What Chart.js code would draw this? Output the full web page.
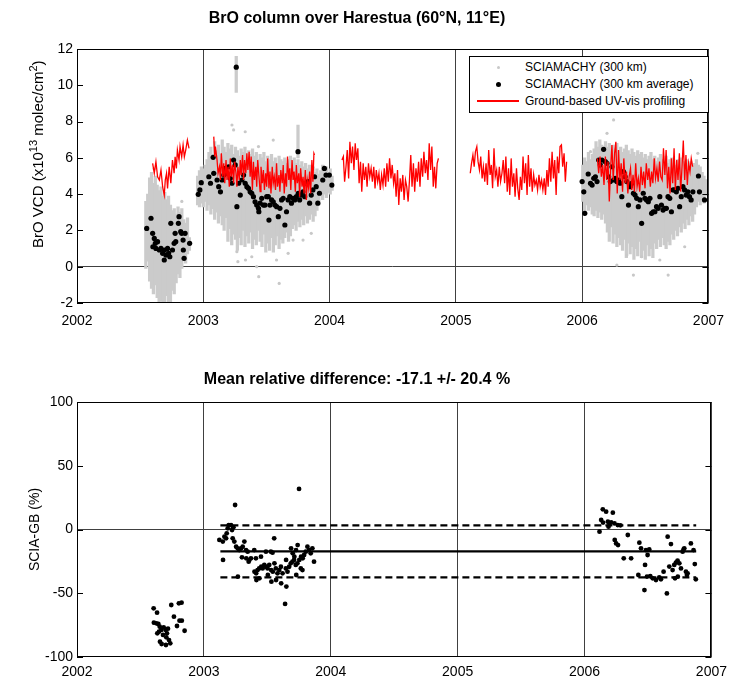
<!DOCTYPE html>
<html>
<head>
<meta charset="utf-8">
<title>BrO column over Harestua</title>
<script src="https://cdn.jsdelivr.net/npm/chart.js@4.4.1/dist/chart.umd.min.js"></script>
<style>
  body { margin: 0; background: #fff; }
  #wrap { position: relative; width: 734px; height: 680px; font-family: Arial, "Liberation Sans", sans-serif; }
  #wrap canvas { position: absolute; left: 0; }
  #top { top: 0; }
  #bottom { top: 340px; }
  #legend { position: absolute; left: 469px; top: 56px; width: 238px; height: 55px; border: 1px solid #000; background: #fff; font-size: 12px; color: #000; z-index: 2; }
  #legend .row { position: absolute; left: 55px; height: 17px; line-height: 17px; white-space: nowrap; }
  #legend .mk { position: absolute; display: block; }
</style>
</head>
<body>
<div id="wrap">
  <canvas id="top" width="734" height="340"></canvas>
  <canvas id="bottom" width="734" height="340"></canvas>
  <div id="legend">
    <div class="mk" style="left:26.5px;top:8.5px;width:3px;height:3px;border-radius:50%;background:#c8c8c8"></div>
    <div class="row" style="top:1.5px">SCIAMACHY (300 km)</div>
    <div class="mk" style="left:25.5px;top:24.5px;width:5px;height:5px;border-radius:50%;background:#000"></div>
    <div class="row" style="top:18.5px">SCIAMACHY (300 km average)</div>
    <div class="mk" style="left:7px;top:43px;width:42px;height:0;border-top:2px solid #ff0000"></div>
    <div class="row" style="top:35.5px">Ground-based UV-vis profiling</div>
  </div>
</div>
<script>
// ground-based UV-vis profiling (x1e13 molec/cm2), null breaks the line between seasons
const gbYears = [
  2002.599,2002.612,2002.625,2002.638,2002.652,2002.665,2002.678,2002.691,2002.699,2002.709,
  2002.717,2002.730,2002.743,2002.756,2002.769,2002.777,2002.787,2002.795,2002.808,2002.816,
  2002.829,2002.840,2002.850,2002.861,2002.874,2002.887,
  2002.95,
  2003.083,2003.091,2003.096,2003.109,2003.117,2003.128,2003.136,2003.143,2003.154,2003.162,
  2003.170,2003.180,2003.188,2003.196,2003.206,2003.214,2003.222,2003.232,2003.240,2003.248,
  2003.259,2003.266,2003.274,2003.285,2003.293,2003.300,2003.311,2003.319,2003.327,2003.337,
  2003.345,2003.353,2003.363,2003.371,2003.379,2003.389,2003.397,2003.405,2003.416,2003.423,
  2003.431,2003.442,2003.450,2003.457,2003.468,2003.476,2003.484,2003.494,2003.502,2003.510,
  2003.520,2003.528,2003.536,2003.546,2003.554,2003.562,2003.572,2003.580,2003.588,2003.599,
  2003.607,2003.614,2003.625,2003.633,2003.641,2003.651,2003.659,2003.667,2003.677,2003.685,
  2003.693,2003.703,2003.711,2003.719,2003.729,2003.737,2003.745,2003.756,2003.763,2003.771,
  2003.782,2003.790,2003.798,2003.808,2003.816,2003.824,2003.834,2003.842,2003.850,2003.860,
  2003.868,2003.876,2003.881,
  2003.99,
  2004.098,2004.109,2004.119,2004.130,2004.140,2004.151,2004.161,2004.172,2004.182,2004.193,
  2004.203,2004.213,2004.224,2004.234,2004.245,2004.255,2004.266,2004.276,2004.287,2004.297,
  2004.308,2004.318,2004.329,2004.339,2004.350,2004.360,2004.370,2004.381,2004.391,2004.402,
  2004.412,2004.423,2004.433,2004.444,2004.454,2004.465,2004.475,2004.486,2004.496,2004.507,
  2004.517,2004.527,2004.538,2004.548,2004.559,2004.569,2004.580,2004.590,2004.601,2004.611,
  2004.622,2004.632,2004.643,2004.653,2004.664,2004.674,2004.684,2004.695,2004.705,2004.716,
  2004.726,2004.737,2004.747,2004.758,2004.768,2004.779,2004.789,2004.800,2004.810,2004.821,
  2004.831,2004.841,2004.852,2004.862,
  2004.99,
  2005.114,2005.124,2005.135,2005.145,2005.155,2005.166,2005.176,2005.187,2005.197,2005.208,
  2005.218,2005.229,2005.239,2005.250,2005.260,2005.271,2005.281,2005.291,2005.302,2005.312,
  2005.323,2005.333,2005.344,2005.354,2005.365,2005.375,2005.386,2005.396,2005.407,2005.417,
  2005.427,2005.438,2005.448,2005.459,2005.469,2005.480,2005.490,2005.501,2005.511,2005.522,
  2005.532,2005.543,2005.553,2005.564,2005.574,2005.584,2005.595,2005.605,2005.616,2005.626,
  2005.637,2005.647,2005.658,2005.668,2005.679,2005.689,2005.700,2005.710,2005.721,2005.731,
  2005.741,2005.752,2005.762,2005.773,2005.783,2005.794,2005.804,2005.815,2005.825,2005.836,
  2005.846,2005.857,2005.867,2005.877,
  2005.99,
  2006.121,2006.131,2006.142,2006.152,2006.163,2006.173,2006.184,2006.194,2006.205,2006.215,
  2006.226,2006.236,2006.246,2006.257,2006.267,2006.278,2006.288,2006.299,2006.309,2006.320,
  2006.330,2006.341,2006.351,2006.362,2006.372,2006.383,2006.393,2006.403,2006.414,2006.424,
  2006.435,2006.445,2006.456,2006.466,2006.477,2006.487,2006.498,2006.508,2006.519,2006.529,
  2006.540,2006.550,2006.560,2006.571,2006.581,2006.592,2006.602,2006.613,2006.623,2006.634,
  2006.644,2006.655,2006.665,2006.676,2006.686,2006.696,2006.707,2006.717,2006.728,2006.738,
  2006.749,2006.759,2006.770,2006.780,2006.791,2006.801,2006.812,2006.822,2006.833,2006.843,
  2006.854,2006.864,2006.875
];
const gbValues = [
  5.70,5.15,5.79,4.96,4.78,5.33,4.41,3.95,4.78,5.15,
  4.32,5.51,4.60,5.88,5.15,6.06,5.42,6.43,5.88,6.62,
  6.06,6.71,6.06,6.43,6.98,6.52,
  null,
  7.17,6.07,6.62,5.88,5.15,5.51,4.78,6.25,4.96,5.70,
  4.60,5.88,4.78,5.51,4.41,5.97,4.96,5.61,4.60,5.79,
  5.15,4.41,5.51,4.78,5.88,5.05,6.16,4.78,5.88,5.15,
  6.25,5.33,6.34,4.96,6.07,4.23,5.79,4.78,5.51,4.41,
  5.88,4.87,4.14,5.51,4.60,5.33,4.23,5.15,4.41,5.97,
  4.32,5.24,4.04,5.51,4.60,4.96,4.23,5.70,4.41,5.05,
  4.14,5.33,4.60,5.61,4.04,5.15,4.41,6.07,4.78,5.42,
  4.23,5.88,4.78,5.24,4.14,5.61,4.60,5.15,3.86,5.42,
  4.41,4.96,4.04,5.33,3.68,4.78,4.32,5.24,4.04,5.88,
  4.69,6.25,6.16,
  null,
  5.88,6.07,4.69,5.51,6.43,4.87,6.89,5.70,6.62,5.33,
  6.80,5.88,6.53,4.60,5.79,4.14,5.70,4.78,5.51,4.41,
  5.70,4.96,5.42,4.69,5.51,4.32,5.33,4.69,5.15,4.23,
  5.06,4.50,5.42,4.41,5.70,4.69,5.97,4.87,5.61,4.60,
  5.15,3.86,5.33,3.40,4.87,4.14,5.06,3.68,4.78,4.41,
  3.59,4.69,6.16,4.41,5.70,4.14,5.42,4.69,5.79,4.41,
  5.97,4.96,6.34,5.15,5.88,4.78,6.80,5.33,6.62,4.41,
  5.51,4.32,5.70,5.97,
  null,
  5.15,5.70,6.16,5.51,6.34,6.62,5.79,5.33,6.07,4.87,
  5.51,4.69,5.70,4.50,6.43,5.06,5.61,4.32,6.53,4.96,
  5.33,4.41,5.51,4.69,5.15,5.88,4.60,6.07,4.14,5.42,
  3.95,5.97,4.41,5.15,3.86,5.42,4.32,3.68,4.96,4.23,
  6.07,4.60,5.70,3.95,6.16,4.41,5.42,4.14,5.06,4.50,
  4.78,4.23,5.06,4.41,4.78,4.23,4.87,3.95,5.33,4.41,
  5.97,4.69,6.34,4.87,5.88,3.95,6.07,5.15,6.62,6.71,
  5.51,6.25,4.69,5.79,
  null,
  5.97,5.15,6.07,4.96,5.61,4.50,6.07,4.78,5.79,3.59,
  5.51,6.71,4.78,6.25,6.89,4.04,6.43,4.78,5.70,4.14,
  5.97,4.60,5.24,4.04,4.96,5.42,4.23,5.06,4.14,5.70,
  4.41,4.87,4.14,5.51,4.50,5.24,4.32,5.70,4.78,5.42,
  4.41,5.24,4.60,5.97,4.87,5.42,4.69,5.79,4.96,4.78,
  6.53,5.06,6.43,4.32,5.51,4.04,5.97,4.60,6.53,4.23,
  5.88,4.78,6.25,4.14,5.51,6.95,4.78,6.16,4.50,5.70,
  5.24,5.97,5.51
];

// SCIAMACHY 300 km averages
const saYears = [
  2002.552,2002.586,2002.599,2002.601,2002.612,2002.620,2002.625,2002.638,2002.652,2002.665,
  2002.678,2002.691,2002.693,2002.704,2002.717,2002.725,2002.735,2002.743,2002.756,2002.769,
  2002.777,2002.782,2002.803,2002.808,2002.821,2002.829,2002.840,2002.842,2002.848,2002.856,
  2002.892,2002.960,2002.973,2002.984,
  2003.044,2003.057,2003.078,2003.083,2003.109,2003.122,2003.136,2003.149,2003.162,2003.175,
  2003.188,2003.201,2003.214,2003.227,2003.240,2003.253,2003.261,2003.266,2003.280,2003.293,
  2003.306,2003.319,2003.332,2003.345,2003.358,2003.371,2003.384,2003.397,2003.410,2003.423,
  2003.437,2003.440,2003.450,2003.463,2003.476,2003.489,2003.502,2003.515,2003.520,2003.528,
  2003.541,2003.554,2003.567,2003.581,2003.594,2003.607,2003.620,2003.633,2003.646,2003.659,
  2003.672,2003.685,2003.698,2003.711,2003.724,2003.737,2003.750,2003.752,2003.763,2003.776,
  2003.789,2003.803,2003.816,2003.829,2003.842,2003.855,2003.868,2003.881,2003.894,2003.907,
  2003.920,2003.946,2003.959,2003.972,2003.998,2004.018,
  2006.000,2006.013,2006.021,2006.048,2006.066,2006.079,2006.092,2006.105,2006.118,2006.131,
  2006.144,2006.157,2006.170,2006.184,2006.197,2006.210,2006.223,2006.236,2006.249,2006.262,
  2006.275,2006.288,2006.301,2006.314,2006.327,2006.341,2006.354,2006.367,2006.380,2006.393,
  2006.406,2006.419,2006.432,2006.445,2006.458,2006.471,2006.484,2006.497,2006.510,2006.524,
  2006.537,2006.550,2006.563,2006.576,2006.589,2006.602,2006.615,2006.628,2006.641,2006.654,
  2006.667,2006.680,2006.694,2006.707,2006.720,2006.733,2006.746,2006.759,2006.772,2006.785,
  2006.798,2006.811,2006.824,2006.837,2006.850,2006.863,2006.877,2006.921,2006.929,2006.969
];
const saValues = [
  2.11,2.67,1.84,1.10,1.56,1.29,1.01,1.38,0.92,1.01,
  0.74,0.37,0.92,0.64,1.01,0.74,0.55,2.39,0.92,1.29,
  1.84,1.38,2.39,2.76,1.93,1.84,1.47,0.92,0.46,1.84,
  1.29,3.99,4.23,4.63,
  4.96,4.60,6.03,5.15,4.78,4.41,4.13,4.78,5.05,5.42,
  5.15,5.51,4.87,4.60,5.88,5.61,11.0,3.31,4.60,3.95,
  4.78,5.05,4.60,4.41,4.32,4.13,4.05,3.86,3.58,3.40,
  3.22,3.03,3.50,3.77,3.40,3.40,3.86,3.86,2.57,3.40,
  3.68,3.58,3.40,3.31,2.76,3.22,3.68,3.77,2.30,3.03,
  3.68,3.86,3.50,3.77,3.68,3.86,6.34,4.05,3.68,3.95,
  4.13,3.86,4.60,4.69,3.50,3.95,4.23,4.96,4.41,3.50,
  4.05,4.78,5.42,5.05,5.05,4.50,
  4.69,4.13,2.94,5.11,4.60,4.50,4.87,4.96,4.69,5.88,
  5.61,5.88,6.47,5.79,5.70,4.96,4.69,5.51,4.78,4.87,
  4.69,4.78,4.60,3.86,5.24,4.96,4.69,3.40,4.41,4.60,
  4.05,3.95,3.77,3.31,3.68,2.39,4.05,3.77,3.68,3.58,
  3.77,2.94,3.03,3.03,3.31,3.22,3.86,3.40,3.12,3.22,
  3.22,3.86,3.77,3.03,4.23,4.23,4.13,4.32,3.31,3.86,
  4.41,4.23,3.95,4.13,3.86,3.68,4.13,5.00,4.13,3.68
];

// SCIAMACHY 300 km pixels: vertical spread per overpass (low / high)
const grayYears = [
  2002.545,2002.560,2002.575,2002.590,2002.605,2002.620,2002.635,2002.650,2002.665,2002.680,
  2002.695,2002.710,2002.725,2002.740,2002.755,2002.770,2002.785,2002.800,2002.815,2002.830,
  2002.845,2002.860,2002.875,2002.890,2002.955,2002.970,2002.985,
  2003.000,2003.015,2003.030,2003.045,2003.060,2003.075,2003.090,2003.105,2003.120,2003.135,
  2003.150,2003.165,2003.180,2003.195,2003.210,2003.225,2003.240,2003.255,2003.270,2003.285,
  2003.300,2003.315,2003.330,2003.345,2003.360,2003.375,2003.390,2003.405,2003.420,2003.435,
  2003.450,2003.465,2003.480,2003.495,2003.510,2003.525,2003.540,2003.555,2003.570,2003.585,
  2003.600,2003.615,2003.630,2003.645,2003.660,2003.675,2003.690,2003.705,2003.720,2003.735,
  2003.750,2003.765,2003.780,2003.795,2003.810,2003.825,2003.840,2003.855,2003.870,2003.885,
  2003.900,2003.915,2003.930,2003.945,2003.960,2003.975,2003.990,2004.005,2004.020,
  2003.261,2003.750,
  2006.005,2006.020,2006.035,2006.050,2006.065,2006.080,2006.095,2006.110,2006.125,2006.140,
  2006.155,2006.170,2006.185,2006.200,2006.215,2006.230,2006.245,2006.260,2006.275,2006.290,
  2006.305,2006.320,2006.335,2006.350,2006.365,2006.380,2006.395,2006.410,2006.425,2006.440,
  2006.455,2006.470,2006.485,2006.500,2006.515,2006.530,2006.545,2006.560,2006.575,2006.590,
  2006.605,2006.620,2006.635,2006.650,2006.665,2006.680,2006.695,2006.710,2006.725,2006.740,
  2006.755,2006.770,2006.785,2006.800,2006.815,2006.830,2006.845,2006.860,2006.875,2006.890,
  2006.905,2006.920,2006.935,2006.950,2006.965,2006.980
];
const grayLo = [
  -0.1,0.3,-0.8,-1.2,-1.5,-1.0,-1.7,-2.1,-1.9,-2.1,
  -2.1,-1.6,-2.1,-2.1,-1.3,-1.5,-0.9,-0.4,-0.6,-0.1,
  0.4,0.2,0.7,0.9,3.4,3.3,3.5,
  3.3,3.6,3.1,3.4,2.9,3.2,2.6,3.0,2.4,2.8,
  2.3,2.0,2.7,1.4,2.1,1.2,1.8,1.5,0.9,1.6,
  1.2,2.0,1.1,1.7,1.3,1.9,1.0,1.5,1.2,2.0,
  1.4,1.1,1.8,0.8,1.3,0.9,1.6,0.8,1.2,1.7,
  1.0,1.5,1.3,1.6,1.9,1.4,1.7,2.1,2.3,2.0,
  2.5,2.2,2.6,2.3,2.8,2.4,2.6,2.9,2.5,2.8,
  3.1,3.4,3.9,3.7,4.0,3.8,4.1,4.0,4.2,
  9.6,6.0,
  3.6,3.0,3.4,3.1,3.3,2.9,2.8,3.1,2.7,3.0,
  2.6,2.9,2.4,1.9,1.4,2.2,1.3,1.8,1.1,1.6,
  1.2,0.9,1.5,0.5,1.3,0.7,1.1,0.4,1.0,0.6,
  1.4,0.5,0.9,0.4,1.2,0.6,1.0,0.5,1.3,1.0,
  1.5,1.1,1.6,1.2,1.0,1.4,1.2,1.8,1.5,2.0,
  1.7,2.2,1.9,2.4,2.1,2.6,2.3,2.8,2.5,2.9,
  3.3,3.6,3.4,3.8,3.5,3.9
];
const grayHi = [
  3.6,4.0,4.9,5.2,4.6,5.0,4.5,4.2,4.4,3.9,
  4.1,3.7,3.9,3.4,3.1,3.2,2.9,3.3,3.0,3.2,
  2.6,2.4,2.7,1.6,5.0,5.3,5.5,
  5.4,5.6,5.9,6.3,6.6,6.2,6.9,6.4,6.7,6.2,
  7.0,6.6,6.3,6.8,6.5,6.7,6.2,6.6,6.4,6.1,
  6.5,6.3,6.6,6.0,6.4,6.2,6.5,6.1,6.3,5.9,
  6.2,6.0,6.3,5.8,6.1,5.9,6.2,5.8,6.0,5.7,
  6.1,5.9,5.8,6.0,5.7,5.9,6.1,5.8,6.0,5.7,
  5.9,5.6,5.8,5.5,5.7,5.4,5.6,5.3,5.5,5.2,
  5.4,5.1,5.3,5.6,5.4,5.5,5.2,5.4,5.0,
  11.6,7.8,
  5.6,6.0,5.8,6.3,5.9,6.2,6.5,6.9,6.6,7.0,
  6.7,6.5,6.9,6.6,6.8,6.4,6.7,6.5,6.8,6.4,
  6.6,6.3,6.5,6.7,6.4,6.2,6.5,6.3,6.1,6.4,
  6.2,6.3,6.0,6.2,5.9,6.1,6.3,5.9,6.1,5.8,
  6.0,6.2,5.9,5.8,6.1,5.7,5.9,6.0,5.8,5.6,
  5.9,5.7,6.0,5.8,5.6,5.9,5.7,5.8,5.5,5.7,
  5.9,5.6,5.5,5.2,5.0,4.8
];
// isolated SCIAMACHY pixels outside the dense spread
const goYears = [2002.610,2002.830,2003.227,2003.240,2003.332,2003.554,2003.437,2003.266,2003.274,2003.334,
  2003.423,2003.439,2003.601,2003.580,2003.384,2003.672,2003.711,2003.790,2003.855,
  2006.249,2006.197,2006.066,2006.275,2006.406,2006.681,2006.354,2006.615,2006.471,2006.812,2006.916,2006.955];
const goValues = [5.40,3.60,7.81,7.54,7.44,6.98,6.62,0.83,0.28,0.37,
  0.00,-0.55,-0.92,0.37,0.55,0.74,1.47,1.47,1.84,
  8.09,7.35,6.34,0.09,-0.46,-0.46,0.64,0.37,0.55,1.10,6.25,3.68];

// relative difference SCIA-GB (%)
const sdYears = [
  2002.604,2002.631,2002.606,2002.625,2002.641,2002.652,2002.665,2002.646,2002.683,2002.699,
  2002.717,2002.709,2002.725,2002.735,2002.701,2002.654,2002.667,2002.743,2002.764,2002.788,
  2002.803,2002.824,2002.808,2002.826,2002.848,2002.633,2002.678,2002.704,
  2003.122,2003.149,2003.162,2003.180,2003.188,2003.196,2003.214,2003.222,2003.233,2003.175,
  2003.151,2003.227,2003.240,2003.246,2003.254,2003.266,2003.279,2003.293,2003.306,2003.319,
  2003.332,2003.345,2003.358,2003.371,2003.397,2003.410,2003.450,2003.489,2003.528,2003.541,
  2003.554,2003.300,2003.334,2003.353,2003.268,2003.399,2003.412,2003.423,2003.436,2003.452,
  2003.463,2003.476,2003.491,2003.502,2003.515,2003.530,2003.543,2003.556,2003.567,2003.580,
  2003.594,2003.607,2003.620,2003.640,2003.646,2003.659,2003.672,2003.685,2003.698,2003.711,
  2003.724,2003.737,2003.750,2003.752,2003.764,2003.777,2003.790,2003.803,2003.816,2003.829,
  2003.842,2003.855,2003.868,2003.739,2003.687,2003.700,2003.713,2003.726,2003.766,2003.779,
  2003.648,2003.414,2003.438,2003.532,2003.569,2003.609,2003.650,2003.728,2003.504,
  2006.144,2006.170,2006.223,2006.131,2006.146,2006.184,2006.197,2006.210,2006.236,2006.262,
  2006.283,2006.118,2006.189,2006.341,2006.238,2006.249,2006.264,2006.309,2006.367,2006.432,
  2006.445,2006.484,2006.497,2006.510,2006.477,2006.492,2006.472,2006.537,2006.563,2006.589,
  2006.602,2006.623,2006.655,2006.681,2006.668,2006.694,2006.707,2006.720,2006.733,2006.747,
  2006.760,2006.649,2006.713,2006.735,2006.773,2006.786,2006.799,2006.812,2006.838,2006.859,
  2006.869,2006.877,2006.781,2006.424,2006.518,2006.807
];
const sdValues = [
  -61.8,-65.2,-73.1,-73.6,-74.1,-76.2,-78.8,-80.1,-76.7,-78.8,
  -77.8,-81.4,-86.7,-89.3,-90.6,-88.0,-89.8,-59.2,-68.4,-75.7,
  -57.9,-57.4,-71.5,-71.5,-79.4,-81.4,-82.7,-84.6,
  -8.2,-9.5,-5.6,-3.0,0.9,3.5,3.5,-0.4,1.7,-6.9,
  -23.9,-6.9,-9.5,19.2,-13.5,-14.8,-16.1,-14.8,-13.5,-9.5,
  -16.1,-17.4,-23.9,-22.6,-16.1,-22.6,-21.3,-17.4,-17.4,-18.2,
  -6.9,-21.8,-22.6,-25.2,-37.0,-33.1,-34.4,-31.8,-30.5,-29.2,
  -30.5,-27.8,-29.2,-30.5,-27.8,-31.8,-33.1,-26.5,-30.5,-34.4,
  -31.8,-29.2,-34.4,-58.4,-30.5,-33.1,-29.2,-26.5,-25.2,-23.9,
  -27.8,-26.5,31.8,-23.9,-30.5,-31.8,-20.0,-17.4,-13.5,-16.1,
  -18.7,-14.8,-25.2,-12.2,-14.8,-18.7,-21.3,-16.1,-21.3,-22.6,
  -23.9,-39.6,-38.3,-40.9,-39.6,-42.2,-44.8,-35.7,-35.7,
  15.8,14.0,13.2,7.5,5.4,6.1,4.8,5.6,4.8,3.5,
  3.3,-1.7,2.2,-4.3,-8.2,-10.9,-12.2,-22.6,-22.6,-10.3,
  -14.8,-16.1,-20.0,-15.6,-27.8,-37.0,-47.5,-38.3,-39.6,-37.5,
  -39.1,-33.1,-5.6,-11.4,-29.1,-31.8,-27.8,-26.0,-24.4,-26.5,
  -30.5,-50.1,-38.3,-37.0,-17.4,-14.8,-33.1,-34.4,-10.9,-16.1,
  -27.1,-39.1,-15.6,-35.7,-36.5,-35.7
];
const meanDiff = -17.1;
const stdDiff = 20.4;
const statFrom = 2003.13;
const statTo = 2006.88;

const yearTicks = [2002, 2003, 2004, 2005, 2006, 2007];

Chart.defaults.font.family = 'Arial, "Liberation Sans", sans-serif';
Chart.defaults.font.size = 14;
Chart.defaults.color = '#000';

const pts = (xs, ys) => xs.map((x, i) => ({ x, y: ys[i] }));

// box around the plot plus inward y tick marks on both sides
const frame = {
  id: 'frame',
  afterDraw(chart) {
    const { ctx, chartArea: a, scales: { y } } = chart;
    ctx.save();
    ctx.strokeStyle = '#000';
    ctx.lineWidth = 1;
    ctx.beginPath();
    y.ticks.forEach((t) => {
      const py = Math.round(y.getPixelForValue(t.value)) + 0.5;
      ctx.moveTo(a.left, py); ctx.lineTo(a.left + 6, py);
      ctx.moveTo(a.right, py); ctx.lineTo(a.right - 6, py);
    });
    ctx.stroke();
    ctx.strokeRect(Math.round(a.left) + 0.5, Math.round(a.top) + 0.5,
      Math.round(a.right - a.left) - 1, Math.round(a.bottom - a.top) - 1);
    ctx.restore();
  }
};

// y axis label with superscripts
const vcdLabel = {
  id: 'vcdLabel',
  afterDraw(chart) {
    const ctx = chart.ctx;
    const parts = [['BrO VCD (x10', 15, 0], ['13', 11, -6], [' molec/cm', 15, 0], ['2', 11, -6], [')', 15, 0]];
    ctx.save();
    ctx.translate(43, 248);
    ctx.rotate(-Math.PI / 2);
    ctx.fillStyle = '#000';
    let x = 0;
    parts.forEach(([s, size, dy]) => {
      ctx.font = size + 'px Arial, "Liberation Sans", sans-serif';
      ctx.fillText(s, x, dy);
      x += ctx.measureText(s).width;
    });
    ctx.restore();
  }
};

const xAxis = (h, pad) => ({
  type: 'linear', min: 2002, max: 2007, offset: false,
  afterBuildTicks: (s) => { s.ticks = yearTicks.map((v) => ({ value: v })); },
  ticks: { padding: pad, callback: (v) => String(v), maxRotation: 0 },
  grid: { color: '#404040', lineWidth: 1, drawTicks: false, offset: false },
  border: { display: false },
  afterFit: (s) => { s.height = h; }
});

const yAxis = (min, max, step, title) => ({
  min, max,
  ticks: { stepSize: step, padding: 4 },
  grid: { color: (c) => (c.tick && c.tick.value === 0 ? '#404040' : 'rgba(0,0,0,0)'), drawTicks: false },
  border: { display: false },
  title,
  afterFit: (s) => { s.width = 77; }
});

const titleOpts = (text, top, bottom) => ({
  display: true, text, color: '#000',
  font: { size: 16, weight: 'bold' },
  padding: { top, bottom }
});

new Chart(document.getElementById('top'), {
  type: 'bar',
  data: {
    datasets: [
      { type: 'line', label: 'Ground-based UV-vis profiling', data: pts(gbYears, gbValues),
        borderColor: '#ff0000', borderWidth: 1.3, pointRadius: 0, spanGaps: false, tension: 0, order: 0 },
      { type: 'scatter', label: 'SCIAMACHY (300 km average)', data: pts(saYears, saValues),
        backgroundColor: '#000', borderWidth: 0, pointRadius: 2.6, order: 1 },
      { type: 'scatter', label: 'SCIAMACHY (300 km)', data: pts(goYears, goValues),
        backgroundColor: '#c8c8c8', borderWidth: 0, pointRadius: 1.6, order: 2 },
      { type: 'bar', label: 'SCIAMACHY (300 km) spread',
        data: grayYears.map((x, i) => ({ x, y: [grayLo[i], grayHi[i]] })),
        backgroundColor: '#cbcbcb', barThickness: 2.6, grouped: false, clip: 0, order: 3 }
    ]
  },
  options: {
    responsive: false, animation: false, events: [], devicePixelRatio: 1,
    layout: { padding: { left: 0, right: 20, top: 0, bottom: 0 } },
    plugins: {
      legend: { display: false }, tooltip: { enabled: false },
      title: titleOpts('BrO column over Harestua (60°N, 11°E)', 9.4, 20.4)
    },
    scales: {
      x: xAxis(37, 10),
      y: yAxis(-2, 12, 2, { display: false })
    }
  },
  plugins: [frame, vcdLabel]
});

new Chart(document.getElementById('bottom'), {
  type: 'scatter',
  data: {
    datasets: [
      { type: 'scatter', label: 'SCIA-GB', data: pts(sdYears, sdValues),
        backgroundColor: '#000', borderWidth: 0, pointRadius: 2.4 },
      { type: 'line', label: 'mean', data: [{ x: statFrom, y: meanDiff }, { x: statTo, y: meanDiff }],
        borderColor: '#000', borderWidth: 2.2, pointRadius: 0 },
      { type: 'line', label: 'mean + sd', data: [{ x: statFrom, y: meanDiff + stdDiff }, { x: statTo, y: meanDiff + stdDiff }],
        borderColor: '#000', borderWidth: 2.2, borderDash: [7, 4], pointRadius: 0 },
      { type: 'line', label: 'mean - sd', data: [{ x: statFrom, y: meanDiff - stdDiff }, { x: statTo, y: meanDiff - stdDiff }],
        borderColor: '#000', borderWidth: 2.2, borderDash: [7, 4], pointRadius: 0 }
    ]
  },
  options: {
    responsive: false, animation: false, events: [], devicePixelRatio: 1,
    layout: { padding: { left: 0, right: 20, top: 0, bottom: 0 } },
    plugins: {
      legend: { display: false }, tooltip: { enabled: false },
      title: titleOpts(`Mean relative difference: ${meanDiff} +/- ${stdDiff} %`, 30.4, 12.4)
    },
    scales: {
      x: xAxis(23, 7),
      y: yAxis(-100, 100, 50, { display: true, text: 'SCIA-GB (%)', font: { size: 14 }, padding: { top: 27, bottom: 0 } })
    }
  },
  plugins: [frame]
});
</script>
</body>
</html>
